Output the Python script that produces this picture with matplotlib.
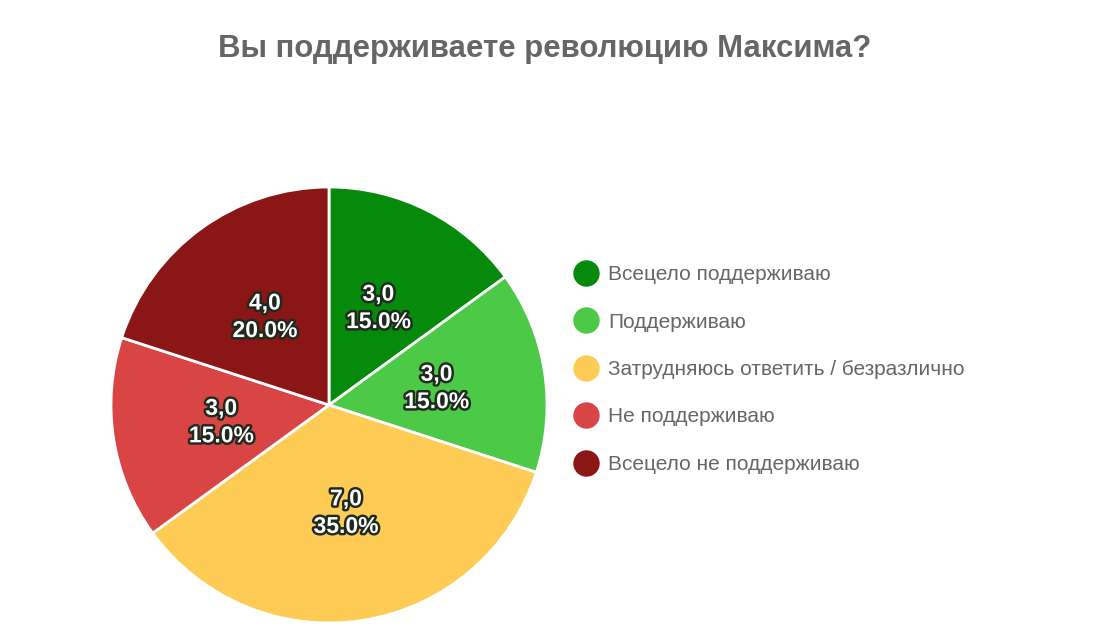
import matplotlib
matplotlib.use("Agg")
import matplotlib.pyplot as plt
import matplotlib.patheffects as pe
from matplotlib.lines import Line2D

categories = ["Всецело поддерживаю", "Поддерживаю", "Затрудняюсь ответить / безразлично",
              "Не поддерживаю", "Всецело не поддерживаю"]
values = [3.0, 3.0, 7.0, 3.0, 4.0]
colors = ["#058a0b", "#4bc947", "#fecb55", "#d94545", "#8a1616"]
title = "Вы поддерживаете революцию Максима?"

W, H = 1094, 643
fig = plt.figure(figsize=(W / 100, H / 100), dpi=100)
fig.patch.set_facecolor("white")

cx, cy, r = 329, 405, 218
ax = fig.add_axes([(cx - r) / W, (H - cy - r) / H, 2 * r / W, 2 * r / H])
total = sum(values)

def fmt(p):
    v = p * total / 100
    return f"{v:.1f}".replace(".", ",") + f"\n{p:.1f}%"

wedges, texts, autotexts = ax.pie(
    values, colors=colors, startangle=90, counterclock=False,
    autopct=fmt, pctdistance=0.5, radius=1,
    wedgeprops=dict(edgecolor="white", linewidth=2),
    textprops=dict(color="white", fontsize=16.5, fontweight="bold",
                   family="Liberation Sans", linespacing=1.25))
for t in autotexts:
    t.set_path_effects([pe.withStroke(linewidth=3.5, foreground="#1f2a1f")])
ax.set_xlim(-1, 1)
ax.set_ylim(-1, 1)
ax.set_aspect("equal")
ax.axis("off")

fig.text(545 / W, 1 - 48.5 / H, title, ha="center", va="center",
         fontsize=22.4, fontweight="bold", color="#666666", family="Liberation Sans")

handles = [Line2D([0], [0], marker="o", linestyle="none", markersize=18,
                  markerfacecolor=c, markeredgecolor=c) for c in colors]
leg = fig.legend(handles, categories, loc="center left",
                 bbox_to_anchor=(573.5 / W, 1 - 369.5 / H), frameon=False,
                 prop=dict(family="Liberation Sans", size=15),
                 labelcolor="#666666", labelspacing=1.364, handletextpad=0.46,
                 handlelength=1.2, borderpad=0, borderaxespad=0)

fig.savefig("out.png", dpi=100, facecolor="white")
